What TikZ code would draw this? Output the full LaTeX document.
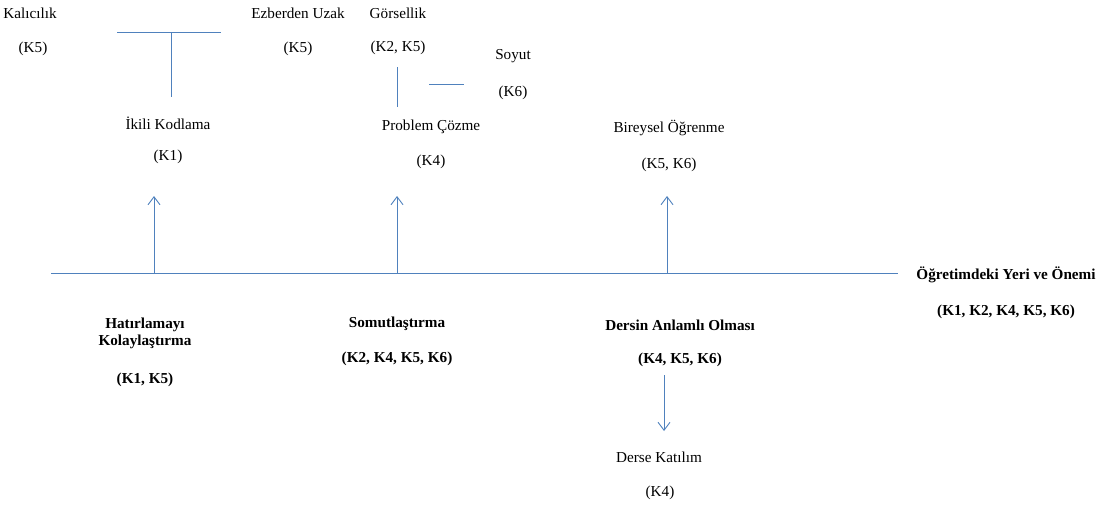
\documentclass[tikz,border=0pt]{standalone}
\usepackage{fontspec}
\setmainfont{Liberation Serif}
\usetikzlibrary{arrows.meta}
\definecolor{linkblue}{RGB}{79,129,189}
\begin{document}
\begin{tikzpicture}[x=1pt,y=-1pt,
  lbl/.style={inner sep=0pt, align=center, font=\fontsize{15.2}{17}\selectfont},
  hdr/.style={inner sep=0pt, align=center, font=\fontsize{15.2}{17}\selectfont\bfseries},
  link/.style={draw=linkblue, line width=0.9pt},
  arrowlink/.style={link, -{Straight Barb[length=8pt,width=12pt]}}]
\useasboundingbox (0,0) rectangle (1099,507);

% upper concepts
\node[lbl] (kalicilik) at (30,13) {Kalıcılık};
\node[lbl] (kalicilikK) at (33,49) {(K5)};
\node[lbl] (ezber) at (298,13) {Ezberden Uzak};
\node[lbl] (ezberK) at (298,49) {(K5)};
\node[lbl] (gorsel) at (398,13) {Görsellik};
\node[lbl] (gorselK) at (398,48) {(K2, K5)};
\node[lbl] (soyut) at (513,56) {Soyut};
\node[lbl] (soyutK) at (513,93) {(K6)};

% middle concepts
\node[lbl] (ikili) at (168,123) {İkili Kodlama};
\node[lbl] (ikiliK) at (168,157) {(K1)};
\node[lbl] (problem) at (431,127) {Problem Çözme};
\node[lbl] (problemK) at (431,162) {(K4)};
\node[lbl] (bireysel) at (669,128) {Bireysel Öğrenme};
\node[lbl] (bireyselK) at (669,165) {(K5, K6)};

% main axis labels
\node[hdr] (onem) at (1006,275) {Öğretimdeki Yeri ve Önemi};
\node[hdr] (onemK) at (1006,312) {(K1, K2, K4, K5, K6)};
\node[hdr] (hatir) at (145,333) {Hatırlamayı\\Kolaylaştırma};
\node[hdr] (hatirK) at (145,380) {(K1, K5)};
\node[hdr] (somut) at (397,324) {Somutlaştırma};
\node[hdr] (somutK) at (397,359) {(K2, K4, K5, K6)};
\node[hdr] (anlam) at (680,325) {Dersin Anlamlı Olması};
\node[hdr] (anlamK) at (680,360) {(K4, K5, K6)};

% lower concept
\node[lbl] (katilim) at (659,457) {Derse Katılım};
\node[lbl] (katilimK) at (660,493) {(K4)};

% connector end points
\coordinate (mainL) at (51,273);
\coordinate (mainR) at (898,273);
\coordinate (baseA) at (154,273);
\coordinate (baseB) at (397,273);
\coordinate (baseC) at (667,273);
\coordinate (tipA) at (154,196);
\coordinate (tipB) at (397,196);
\coordinate (tipC) at (667,196);
\coordinate (teeL) at (117,32);
\coordinate (teeR) at (221,32);
\coordinate (teeM) at (171,32);
\coordinate (teeB) at (171,97);
\coordinate (gorselTop) at (397,67);
\coordinate (gorselBot) at (397,107);
\coordinate (soyutL) at (429,84);
\coordinate (soyutR) at (464,84);
\coordinate (downTop) at (664,375);
\coordinate (downTip) at (664,431);

% connectors
\draw[link] (mainL) -- (mainR);
\draw[arrowlink] (baseA) -- (tipA);
\draw[arrowlink] (baseB) -- (tipB);
\draw[arrowlink] (baseC) -- (tipC);
\draw[link] (teeL) -- (teeR);
\draw[link] (teeM) -- (teeB);
\draw[link] (gorselTop) -- (gorselBot);
\draw[link] (soyutL) -- (soyutR);
\draw[arrowlink] (downTop) -- (downTip);
\end{tikzpicture}
\end{document}
